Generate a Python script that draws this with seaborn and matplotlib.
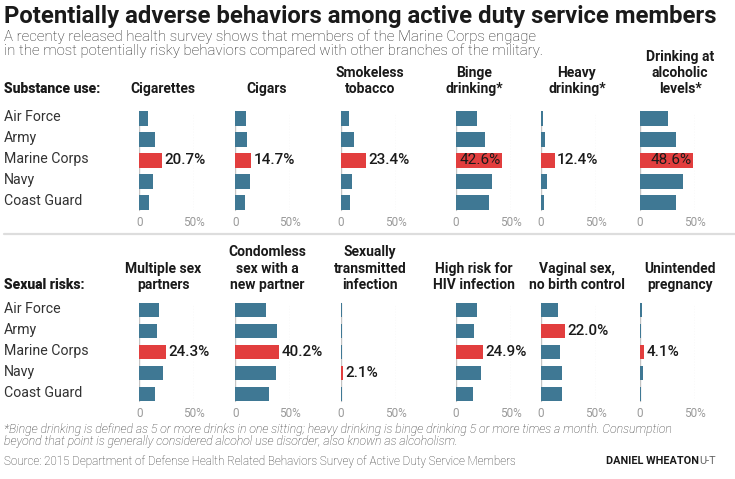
import numpy as np
import pandas as pd
import seaborn as sns
import matplotlib.pyplot as plt
from matplotlib.lines import Line2D
from matplotlib import transforms

# ---- data ----
branches = ["Air Force", "Army", "Marine Corps", "Navy", "Coast Guard"]

substance_titles = ["Cigarettes", "Cigars", "Smokeless\ntobacco", "Binge\ndrinking*",
                    "Heavy\ndrinking*", "Drinking at\nalcoholic\nlevels*"]
cigarettes = [8.0, 14.3, 20.7, 12.8, 8.6]
cigars = [9.5, 10.4, 14.7, 13.6, 8.5]
smokeless = [7.6, 11.8, 23.4, 10.0, 8.6]
binge = [19.5, 27.0, 42.6, 32.9, 30.4]
heavy = [2.0, 3.4, 12.4, 5.2, 2.7]
alcoholic = [25.4, 32.4, 48.6, 39.5, 33.3]

sexual_titles = ["Multiple sex\npartners", "Condomless\nsex with a\nnew partner",
                 "Sexually\ntransmitted\ninfection", "High risk for\nHIV infection",
                 "Vaginal sex,\nno birth control", "Unintended\npregnancy"]
multiple_partners = [18.0, 15.8, 24.3, 21.2, 14.5]
condomless = [28.0, 38.1, 40.2, 37.2, 31.1]
sti = [1.0, 1.5, 1.1, 2.1, 0.8]
hiv_risk = [19.5, 17.1, 24.9, 23.2, 15.5]
no_birth_control = [15.2, 22.0, 17.4, 19.2, 19.2]
unintended = [1.8, 1.2, 4.1, 2.4, 1.0]

substance_values = [cigarettes, cigars, smokeless, binge, heavy, alcoholic]
sexual_values = [multiple_partners, condomless, sti, hiv_risk, no_birth_control, unintended]

# ---- layout (pixels) ----
W, H = 735, 479
BLUE = "#3f7894"
RED = "#e23e3e"
DARK = "#1a1a1a"


def fx(px):
    return px / W


def fy(py):
    return 1 - py / H


sns.set_theme(style="white")
plt.rcParams["font.family"] = ["Roboto", "DejaVu Sans"]

fig = plt.figure(figsize=(W / 100, H / 100), dpi=100)

zero_px = [139.3, 235.3, 340.7, 455.7, 541.0, 640.0]
title_px = [163, 267, 370, 474, 577, 680]
panel_w = 54.8
pitch = 21

fig.text(fx(4), fy(16), "Potentially adverse behaviors among active duty service members",
         fontsize=17.2, fontweight="bold", color=DARK, va="center", ha="left")
fig.text(fx(4), fy(37), "A recenty released health survey shows that members of the Marine Corps engage",
         fontsize=10.8, fontweight="light", color="#222222", va="center")
fig.text(fx(4), fy(51), "in the most potentially risky behaviors compared with other branches of the military.",
         fontsize=10.8, fontweight="light", color="#222222", va="center")


def draw_row(header, titles, values, first_center, header_y):
    top = first_center - pitch / 2
    axes = []
    for i, (ttl, vals) in enumerate(zip(titles, values)):
        ax = fig.add_axes([fx(zero_px[i]), fy(top + 5 * pitch), panel_w / W, 5 * pitch / H])
        ax.set_facecolor("none")
        hi = branches[int(np.argmax(vals))]
        pal = {b: (RED if b == hi else BLUE) for b in branches}
        df = pd.DataFrame({"branch": branches, "value": vals})
        sns.barplot(data=df, x="value", y="branch", hue="branch", palette=pal, legend=False,
                    orient="h", width=0.7, saturation=1, edgecolor="none", linewidth=0, ax=ax)
        ax.set_xlim(0, 50)
        ax.set_ylim(4.5, -0.5)
        ax.axvline(0, color="#c4c4c4", lw=1, ymin=0.03, ymax=0.97, zorder=0)
        ax.axvline(50, color="#a8a8a8", lw=0.8, ls=(0, (1, 1.5)), ymin=0.03, ymax=0.955, zorder=0)
        for s in ax.spines.values():
            s.set_visible(False)
        ax.set_yticks([])
        ax.set_xticks([0, 50])
        ax.set_xticklabels(["0", "50%"])
        ax.tick_params(axis="x", length=0, pad=2, labelsize=8.5, labelcolor="#9a9a9a")
        ax.set_xlabel("")
        ax.set_ylabel("")
        # value label on highlighted bar
        j = branches.index(hi)
        v = vals[j]
        if v > 41:
            ax.annotate(f"{v:.1f}%", xy=(v, j), xytext=(-2, 0), textcoords="offset pixels",
                        ha="right", va="center", fontsize=11, color=DARK)
        else:
            ax.annotate(f"{v:.1f}%", xy=(v, j), xytext=(2, 0), textcoords="offset pixels",
                        ha="left", va="center", fontsize=11, color=DARK, fontweight="medium")
        # panel title, one line at a time from the bottom
        lines = ttl.split("\n")
        for k, line in enumerate(reversed(lines)):
            fig.text(fx(title_px[i]), fy(header_y - k * 16.3), line, ha="center", va="center",
                     fontsize=10, fontweight="bold", color=DARK)
        axes.append(ax)
    # header and category labels
    fig.text(fx(4), fy(header_y), header, ha="left", va="center", fontsize=10,
             fontweight="heavy", color=DARK)
    tr = transforms.blended_transform_factory(fig.transFigure, axes[0].transData)
    for j, b in enumerate(branches):
        fig.text(fx(4), j - 0.07, b, transform=tr, ha="left", va="center", fontsize=10.2,
                 fontweight="normal", color="#333333")
    return axes


draw_row("Substance use:", substance_titles, substance_values, 118.3, 89.3)
draw_row("Sexual risks:", sexual_titles, sexual_values, 310.0, 285.0)

fig.add_artist(Line2D([fx(4), fx(735)], [fy(234), fy(234)], color="#dddddd", lw=1.6))

fig.text(fx(4), fy(429), "*Binge drinking is defined as 5 or more drinks in one sitting; heavy drinking is binge "
         "drinking 5 or more times a month. Consumption", fontsize=8.8, fontstyle="italic",
         fontweight="light", color="#333333", va="center")
fig.text(fx(4), fy(442), "beyond that point is generally considered alcohol use disorder, also known as alcoholism.",
         fontsize=8.8, fontstyle="italic", fontweight="light", color="#333333", va="center")
fig.text(fx(4), fy(461), "Source: 2015 Department of Defense Health Related Behaviors Survey of Active Duty "
         "Service Members", fontsize=8.4, fontweight="light", color="#333333", va="center")
t = fig.text(fx(606), fy(461), "DANIEL WHEATON", fontsize=7.8, fontweight="bold", color=DARK, va="center")
fig.canvas.draw()
bb = t.get_window_extent()
fig.text(bb.x1 / fig.dpi / fig.get_figwidth(), fy(461), "U-T", fontsize=7.8, color="#666666", va="center")

fig.savefig("out.png", dpi=100, facecolor="white")
